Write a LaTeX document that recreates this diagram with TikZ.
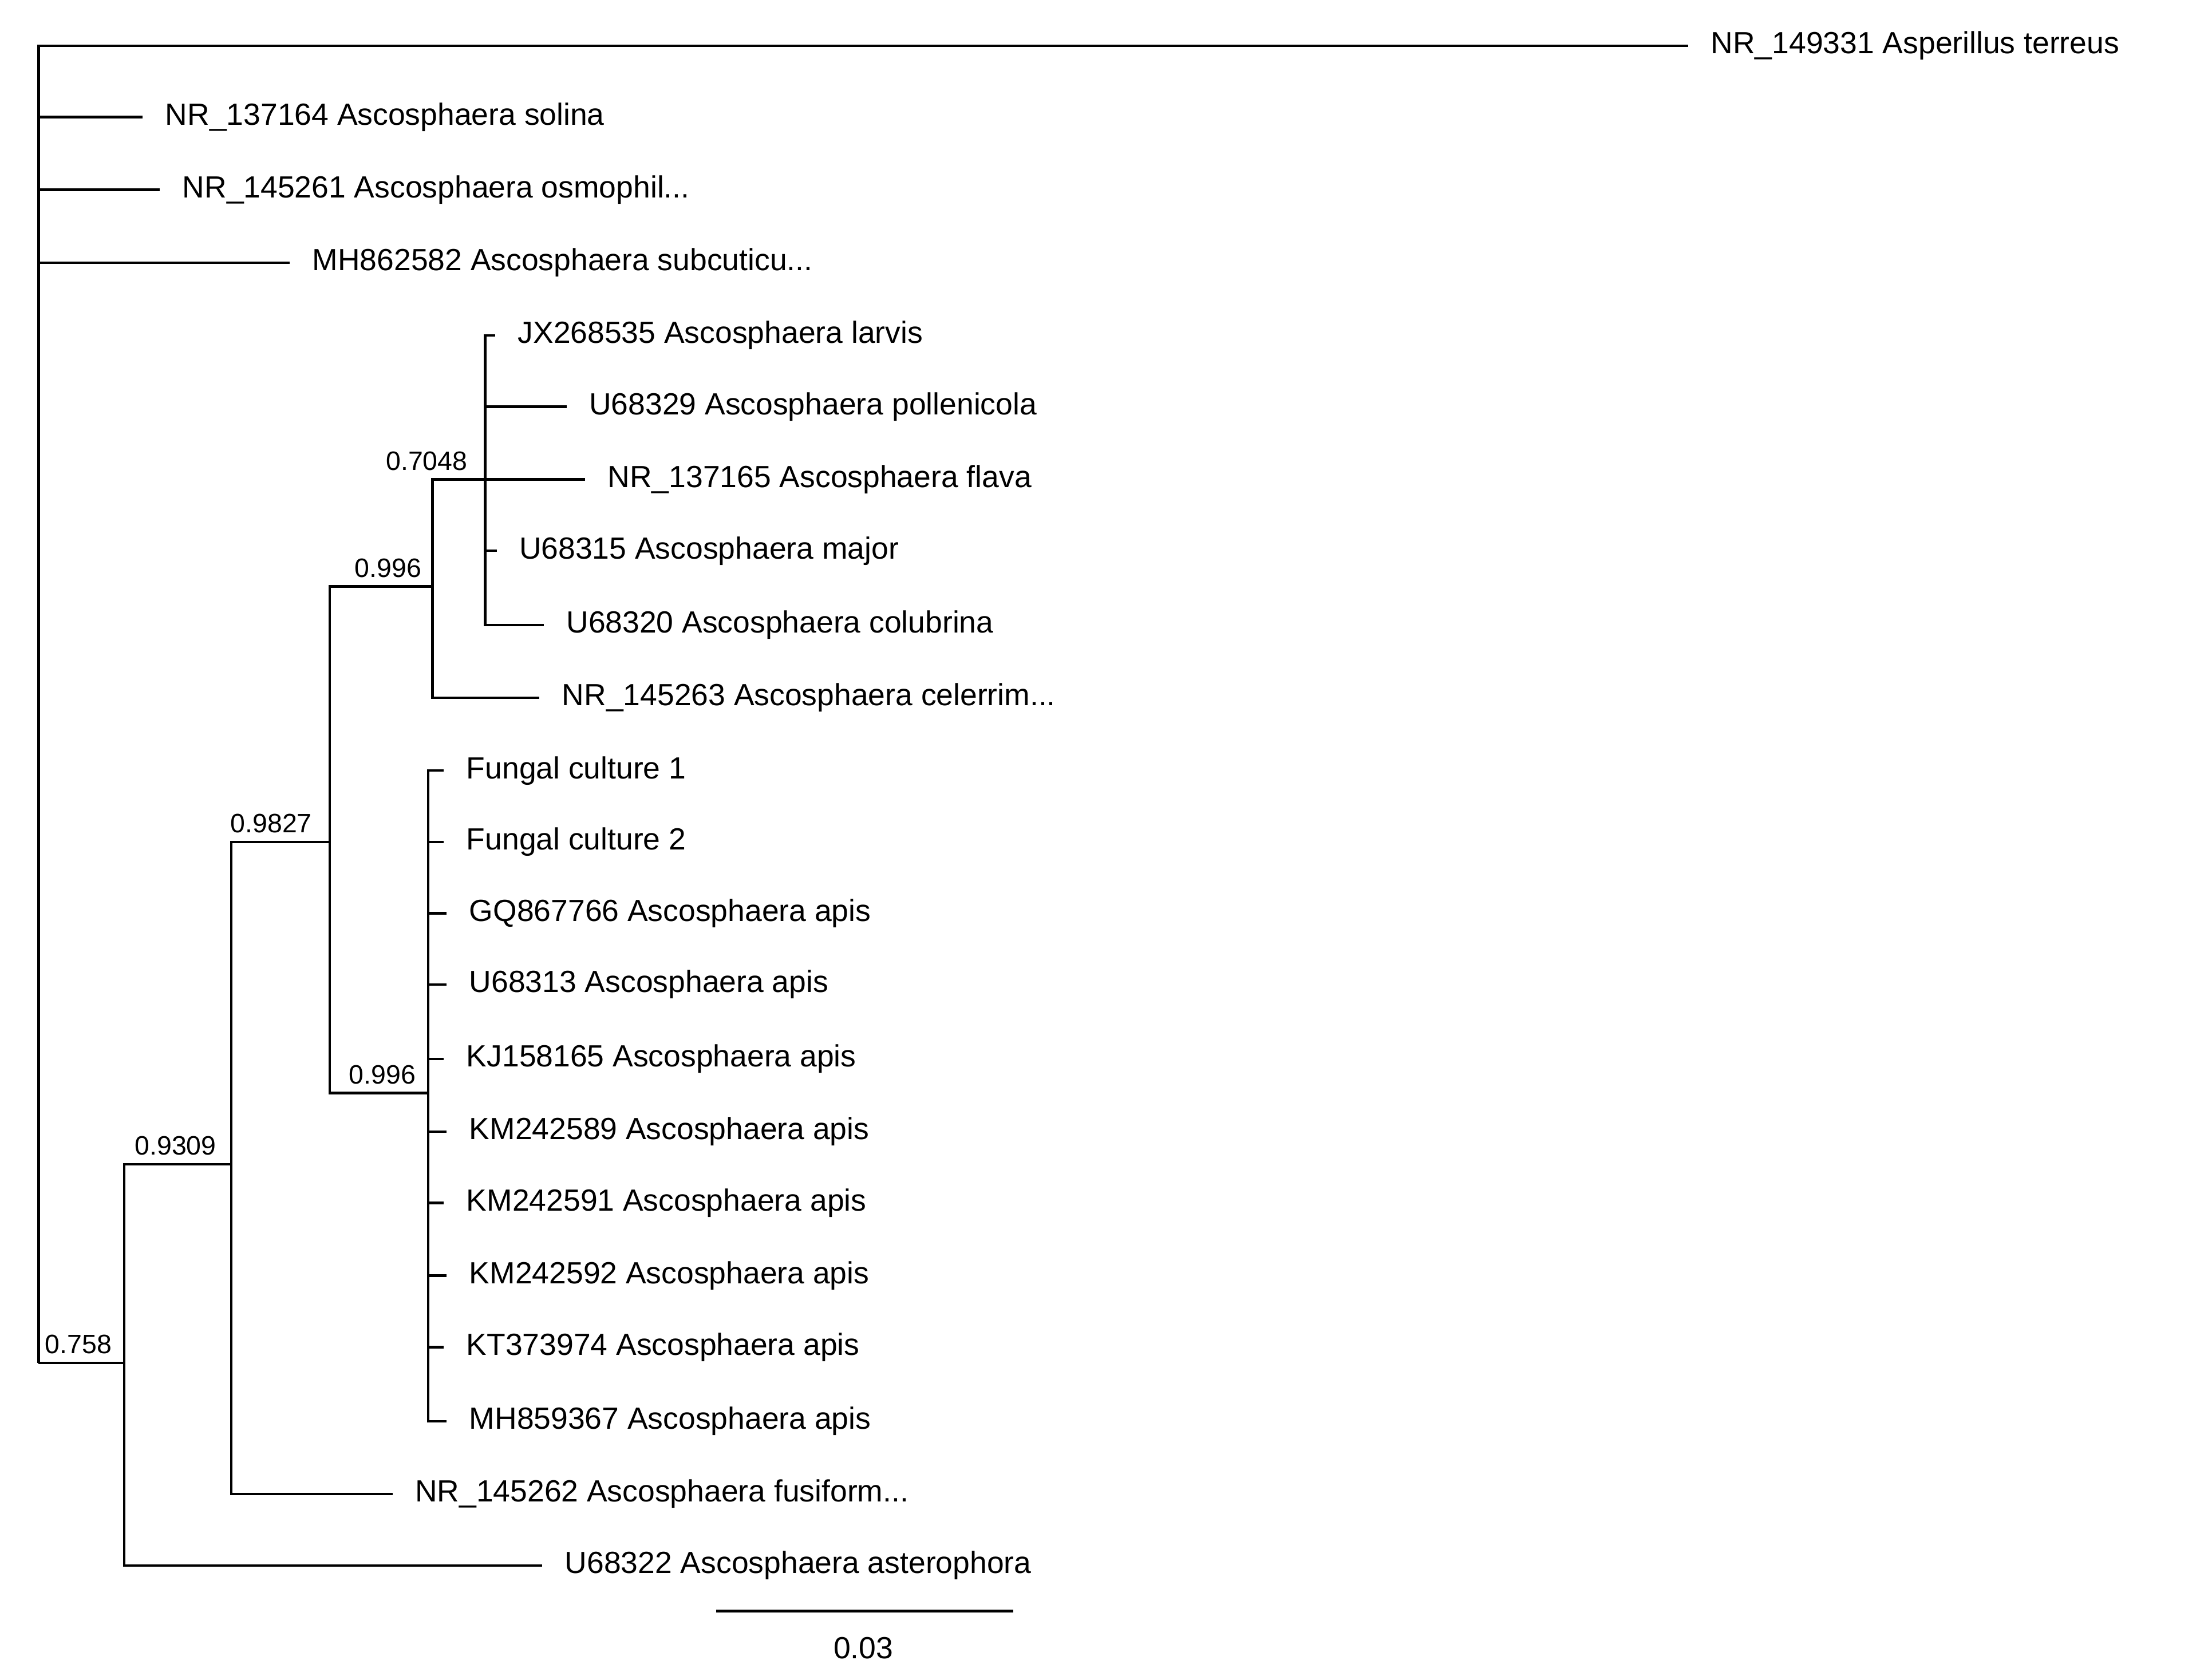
\documentclass[tikz,border=0pt]{standalone}
\usepackage{fontspec}
\setmainfont{Liberation Sans}
\begin{document}
\begin{tikzpicture}[x=0.01cm,y=-0.01cm,line width=0.5pt,
  leaf/.style={anchor=west,inner xsep=0.15cm,inner ysep=0pt,font=\fontsize{6.1}{7}\selectfont},
  boot/.style={anchor=south,inner sep=1pt,font=\fontsize{5.3}{6}\selectfont}]
\useasboundingbox (0,0) rectangle (1550,1163);
% internal nodes
\coordinate (r) at (27,955);
\coordinate (n1) at (87,955);
\coordinate (n2) at (162,816);
\coordinate (n3) at (231,590);
\coordinate (n4) at (303,411);
\coordinate (n5) at (340,336);
\coordinate (n6) at (300,766);
% leaves
\node[leaf] (t) at (1183,32) {NR\_149331 Asperillus terreus};
\node[leaf] (l1) at (100,82) {NR\_137164 Ascosphaera solina};
\node[leaf] (l2) at (112,133) {NR\_145261 Ascosphaera osmophil...};
\node[leaf] (l3) at (203,184) {MH862582 Ascosphaera subcuticu...};
\node[leaf] (a1) at (347,235) {JX268535 Ascosphaera larvis};
\node[leaf] (a2) at (397,285) {U68329 Ascosphaera pollenicola};
\node[leaf] (a3) at (410,336) {NR\_137165 Ascosphaera flava};
\node[leaf] (a4) at (348,386) {U68315 Ascosphaera major};
\node[leaf] (a5) at (381,438) {U68320 Ascosphaera colubrina};
\node[leaf] (b1) at (378,489) {NR\_145263 Ascosphaera celerrim...};
\node[leaf] (c1) at (311,540) {Fungal culture 1};
\node[leaf] (c2) at (311,590) {Fungal culture 2};
\node[leaf] (c3) at (313,640) {GQ867766 Ascosphaera apis};
\node[leaf] (c4) at (313,690) {U68313 Ascosphaera apis};
\node[leaf] (c5) at (311,742) {KJ158165 Ascosphaera apis};
\node[leaf] (c6) at (313,793) {KM242589 Ascosphaera apis};
\node[leaf] (c7) at (311,843) {KM242591 Ascosphaera apis};
\node[leaf] (c8) at (313,894) {KM242592 Ascosphaera apis};
\node[leaf] (c9) at (311,944) {KT373974 Ascosphaera apis};
\node[leaf] (c10) at (313,996) {MH859367 Ascosphaera apis};
\node[leaf] (f) at (275,1047) {NR\_145262 Ascosphaera fusiform...};
\node[leaf] (s) at (380,1097) {U68322 Ascosphaera asterophora};
% edges
\foreach \l in {t,l1,l2,l3} \draw (r) |- (\l.west);
\draw (r) -- (n1);
\draw (n1) |- (n2); \draw (n1) |- (s.west);
\draw (n2) |- (n3); \draw (n2) |- (f.west);
\draw (n3) |- (n4); \draw (n3) |- (n6);
\draw (n4) |- (n5); \draw (n4) |- (b1.west);
\foreach \l in {a1,a2,a3,a4,a5} \draw (n5) |- (\l.west);
\foreach \l in {c1,c2,c3,c4,c5,c6,c7,c8,c9,c10} \draw (n6) |- (\l.west);
% bootstrap labels
\node[boot] (bb1) at (55,953) {0.758};
\node[boot] (bb2) at (123,814) {0.9309};
\node[boot] (bb3) at (190,588) {0.9827};
\node[boot] (bb4) at (272,409) {0.996};
\node[boot] (bb5) at (299,334) {0.7048};
\node[boot] (bb6) at (268,764) {0.996};
% scale bar
\coordinate (sa) at (502,1129); \coordinate (sb) at (710,1129);
\draw (sa) -- (sb);
\node[font=\fontsize{6.1}{7}\selectfont] (sl) at (605,1155) {0.03};
\end{tikzpicture}
\end{document}
